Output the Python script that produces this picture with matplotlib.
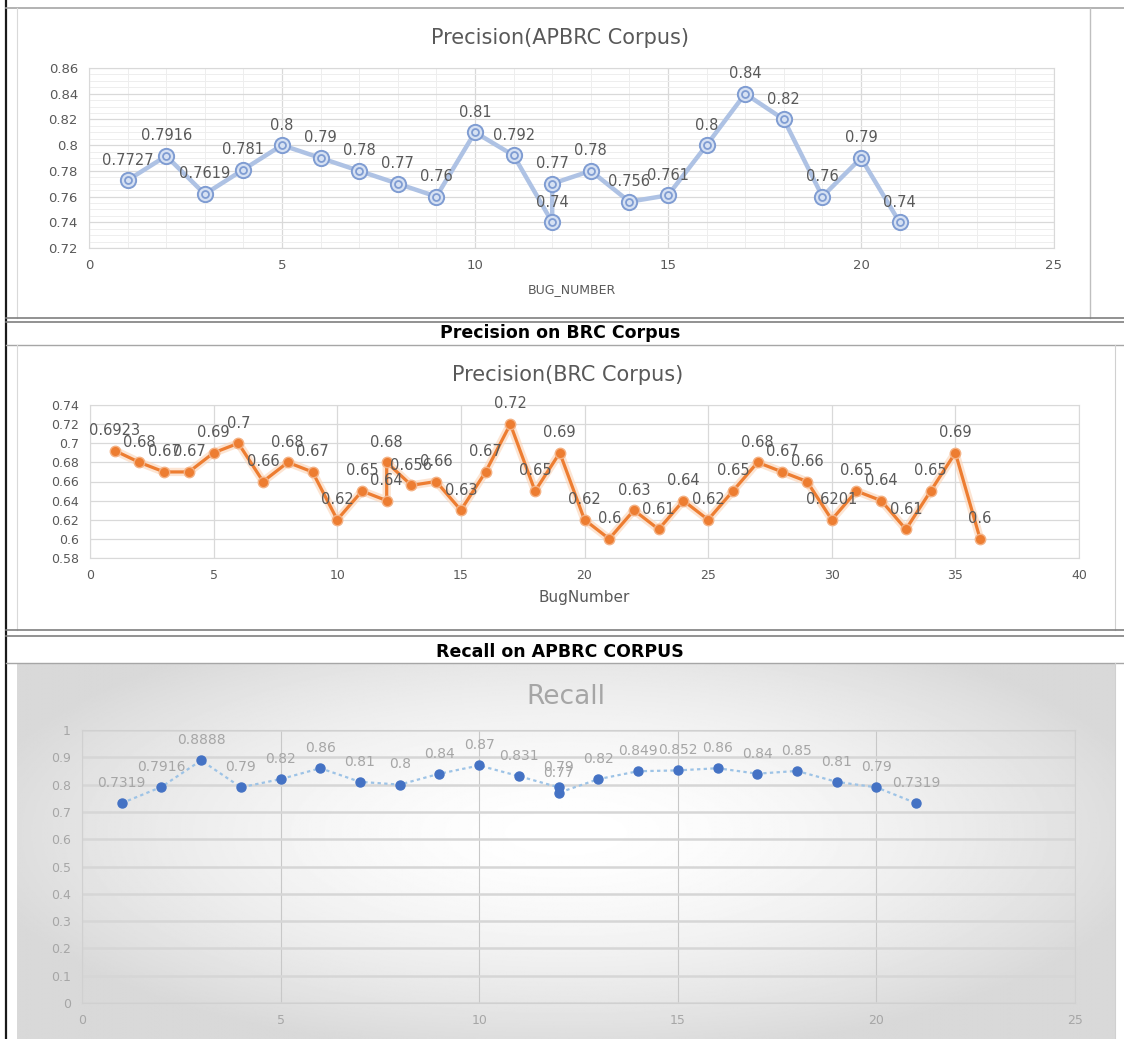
import matplotlib
matplotlib.use("Agg")
import matplotlib.pyplot as plt
import numpy as np
from matplotlib.lines import Line2D
from matplotlib.ticker import MultipleLocator, FuncFormatter

# ---------------- data ----------------
apbrc_bug = [1, 2, 3, 4, 5, 6, 7, 8, 9, 10, 11, 12, 12, 13, 14, 15, 16, 17, 18, 19, 20, 21]
apbrc_precision = [0.7727, 0.7916, 0.7619, 0.781, 0.8, 0.79, 0.78, 0.77, 0.76, 0.81, 0.792,
                   0.74, 0.77, 0.78, 0.756, 0.761, 0.8, 0.84, 0.82, 0.76, 0.79, 0.74]

brc_bug = [1, 2, 3, 4, 5, 6, 7, 8, 9, 10, 11, 12, 12, 13, 14, 15, 16, 17, 18, 19, 20, 21, 22, 23, 24,
           25, 26, 27, 28, 29, 30, 31, 32, 33, 34, 35, 36]
brc_precision = [0.6923, 0.68, 0.67, 0.67, 0.69, 0.7, 0.66, 0.68, 0.67, 0.62, 0.65, 0.64, 0.68,
                 0.656, 0.66, 0.63, 0.67, 0.72, 0.65, 0.69, 0.62, 0.6, 0.63, 0.61, 0.64, 0.62,
                 0.65, 0.68, 0.67, 0.66, 0.6201, 0.65, 0.64, 0.61, 0.65, 0.69, 0.6]

recall_bug = [1, 2, 3, 4, 5, 6, 7, 8, 9, 10, 11, 12, 12, 13, 14, 15, 16, 17, 18, 19, 20, 21]
recall = [0.7319, 0.7916, 0.8888, 0.79, 0.82, 0.86, 0.81, 0.8, 0.84, 0.87, 0.831, 0.79, 0.77,
          0.82, 0.849, 0.852, 0.86, 0.84, 0.85, 0.81, 0.79, 0.7319]

# ---------------- figure ----------------
W, H = 1124, 1039
fig = plt.figure(figsize=(W / 100, H / 100), dpi=100)
fig.patch.set_facecolor("white")


def px_axes(l, t, r, b, **kw):
    return fig.add_axes([l / W, 1 - b / H, (r - l) / W, (b - t) / H], **kw)


def hline(y, x0, x1, color, lw):
    fig.add_artist(Line2D([x0 / W, x1 / W], [1 - y / H, 1 - y / H],
                          transform=fig.transFigure, color=color, lw=lw))


def vline(x, y0, y1, color, lw):
    fig.add_artist(Line2D([x / W, x / W], [1 - y0 / H, 1 - y1 / H],
                          transform=fig.transFigure, color=color, lw=lw))


def fmt(v, pos=None):
    return f"{round(v, 4):g}"


# --------- panel 3 gradient background ---------
bg = px_axes(17, 664, 1115, 1039)
bg.set_axis_off()
yy, xx = np.mgrid[-1:1:300j, -1:1:800j]
rr = np.sqrt((xx / 1.0) ** 2 + ((yy + 0.1) / 1.1) ** 2)
g = np.clip(1.0 - 0.13 * rr ** 1.6, 0.85, 1.0)
bg.imshow(g, cmap="gray", vmin=0, vmax=1, aspect="auto", extent=[0, 1, 0, 1])

# --------- frame lines ---------
vline(6, 0, 1039, "#1a1a1a", 1.6)
hline(8, 6, 1124, "#a6a6a6", 1.2)
vline(17, 8, 318, "#d9d9d9", 0.8)
vline(1090, 8, 318, "#bfbfbf", 1.0)
hline(318, 6, 1124, "#7f7f7f", 1.2)
hline(322, 6, 1124, "#7f7f7f", 1.2)
hline(345, 6, 1124, "#a6a6a6", 1.0)
vline(17, 345, 630, "#d9d9d9", 0.8)
vline(1115, 345, 630, "#d0d0d0", 0.8)
hline(630, 6, 1124, "#7f7f7f", 1.2)
hline(636, 6, 1124, "#7f7f7f", 1.2)
hline(663, 6, 1124, "#a6a6a6", 1.0)
vline(1115, 663, 1039, "#d0d0d0", 0.8)

# ---------------- headers / titles ----------------
fig.text(560 / W, 1 - 38 / H, "Precision(APBRC Corpus)", ha="center", va="center",
         fontsize=15, color="#595959")
fig.text(560 / W, 1 - 333 / H, "Precision on BRC Corpus", ha="center", va="center",
         fontsize=12.5, color="black", fontweight="bold")
fig.text(568 / W, 1 - 375 / H, "Precision(BRC Corpus)", ha="center", va="center",
         fontsize=15, color="#595959")
fig.text(560 / W, 1 - 652 / H, "Recall on APBRC CORPUS", ha="center", va="center",
         fontsize=12.5, color="black", fontweight="bold")
fig.text(566 / W, 1 - 697 / H, "Recall", ha="center", va="center",
         fontsize=19, color="#a6a6a6")


def style_axes(ax, tick_color, tick_size, spine_color):
    ax.tick_params(length=0, labelsize=tick_size, colors=tick_color, pad=8)
    for s in ax.spines.values():
        s.set_color(spine_color)
        s.set_linewidth(0.8)
    ax.yaxis.set_major_formatter(FuncFormatter(fmt))
    ax.xaxis.set_major_formatter(FuncFormatter(fmt))
    ax.set_axisbelow(True)


# ---------------- panel 1 ----------------
ax1 = px_axes(89, 68, 1054, 248)
ax1.set_xlim(0, 25)
ax1.set_ylim(0.72, 0.86)
ax1.xaxis.set_major_locator(MultipleLocator(5))
ax1.xaxis.set_minor_locator(MultipleLocator(1))
ax1.yaxis.set_major_locator(MultipleLocator(0.02))
ax1.yaxis.set_minor_locator(MultipleLocator(0.005))
style_axes(ax1, "#595959", 9.5, "#d9d9d9")
ax1.tick_params(which="minor", length=0)
ax1.grid(which="major", color="#d9d9d9", lw=0.9)
ax1.grid(which="minor", color="#eeeeee", lw=0.7)
ax1.plot(apbrc_bug, apbrc_precision, color="#aec2e4", lw=3.2, zorder=3,
         marker="o", ms=11, mfc="#d6e1f3", mec="#7f9cd2", mew=1.4)
ax1.plot(apbrc_bug, apbrc_precision, ls="none", marker="o", ms=5, mfc="none",
         mec="#7f9cd2", mew=1.3, zorder=4)
for x, v in zip(apbrc_bug, apbrc_precision):
    ax1.annotate(fmt(v), (x, v), xytext=(0, 14.5), textcoords="offset points",
                 ha="center", va="center", fontsize=10.5, color="#595959", zorder=5)
ax1.set_xlabel("BUG_NUMBER", fontsize=9, color="#595959", labelpad=8)

# ---------------- panel 2 ----------------
ax2 = px_axes(90, 405, 1079, 558)
ax2.set_xlim(0, 40)
ax2.set_ylim(0.58, 0.74)
ax2.xaxis.set_major_locator(MultipleLocator(5))
ax2.yaxis.set_major_locator(MultipleLocator(0.02))
style_axes(ax2, "#595959", 9, "#d9d9d9")
ax2.grid(which="major", color="#d9d9d9", lw=0.9)
ax2.plot(brc_bug, brc_precision, color="#fbd3b5", lw=6, alpha=0.6, zorder=2,
         solid_capstyle="round")
ax2.plot(brc_bug, brc_precision, color="#ed7d31", lw=2.3, zorder=3,
         marker="o", ms=7.5, mfc="#ed7d31", mec="#f4b183", mew=1.0)
for x, v in zip(brc_bug, brc_precision):
    ax2.annotate(fmt(v), (x, v), xytext=(0, 14.5), textcoords="offset points",
                 ha="center", va="center", fontsize=10.5, color="#595959", zorder=5)
ax2.set_xlabel("BugNumber", fontsize=11, color="#595959", labelpad=6)

# ---------------- panel 3 ----------------
ax3 = px_axes(82, 730, 1075, 1003)
ax3.patch.set_alpha(0)
ax3.set_xlim(0, 25)
ax3.set_ylim(0, 1)
ax3.xaxis.set_major_locator(MultipleLocator(5))
ax3.yaxis.set_major_locator(MultipleLocator(0.1))
style_axes(ax3, "#a6a6a6", 9, "#d0d0d0")
ax3.grid(axis="y", color="#d6d6d6", lw=1.8)
ax3.grid(axis="x", color="#c8c8c8", lw=0.8)
ax3.plot(recall_bug, recall, color="#9dc3e6", lw=1.6, ls=(0, (1.5, 1.5)), zorder=3)
ax3.plot(recall_bug, recall, ls="none", marker="o", ms=6.5, mfc="#4472c4",
         mec="#4472c4", zorder=4)
for x, v in zip(recall_bug, recall):
    ax3.annotate(fmt(v), (x, v), xytext=(0, 14.5), textcoords="offset points",
                 ha="center", va="center", fontsize=10, color="#a6a6a6", zorder=5)

fig.savefig("out.png", dpi=100)
